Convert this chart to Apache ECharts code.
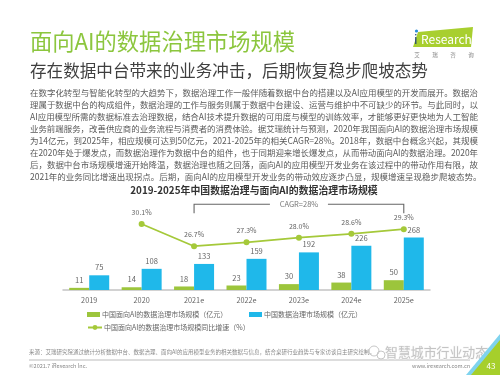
<!DOCTYPE html>
<html><head><meta charset="utf-8">
<script src="https://cdn.jsdelivr.net/npm/echarts@6/dist/echarts.min.js"></script>
<style>html,body{margin:0;padding:0;background:#fff}#c{width:500px;height:375px}</style>
</head><body><div id="c"></div>
<script>
// ---- data ----
const categories = ['2019', '2020', '2021e', '2022e', '2023e', '2024e', '2025e'];
const aiMarket = [11, 14, 18, 23, 30, 38, 50];
const dataGovMarket = [75, 108, 133, 159, 192, 226, 268];
const aiGrowth = [null, 30.1, 26.7, 27.3, 28.0, 28.6, 29.3];
const seriesNames = ['中国面向AI的数据治理市场规模（亿元）', '中国数据治理市场规模（亿元）', '中国面向AI的数据治理市场规模同比增速（%）'];
const cagrText = 'CAGR=28%';
const titleText = '面向AI的数据治理市场规模';
const subtitleText = '存在数据中台带来的业务冲击，后期恢复稳步爬坡态势';
const chartTitle = '2019-2025年中国数据治理与面向AI的数据治理市场规模';
const paragraphLines = [
  '在数字化转型与智能化转型的大趋势下，数据治理工作一般伴随着数据中台的搭建以及AI应用模型的开发而展开。数据治',
  '理属于数据中台的构成组件，数据治理的工作与服务则属于数据中台建设、运营与维护中不可缺少的环节。与此同时，以',
  'AI应用模型所需的数据标准去治理数据，结合AI技术提升数据的可用度与模型的训练效率，才能够更好更快地为人工智能',
  '业务前端服务，改善供应商的业务流程与消费者的消费体验。据艾瑞统计与预测，2020年我国面向AI的数据治理市场规模',
  '为14亿元，到2025年，相应规模可达到50亿元，2021-2025年的相关CAGR=28%。2018年，数据中台概念兴起，其规模',
  '在2020年处于爆发点，而数据治理作为数据中台的组件，也于同期迎来增长爆发点，从而带动面向AI的数据治理。2020年',
  '后，数据中台市场规模增速开始降温，数据治理也随之回落，面向AI的应用模型开发业务在该过程中的带动作用有限，故',
  '2021年的业务同比增速出现拐点。后期，面向AI的应用模型开发业务的带动效应逐步凸显，规模增速呈现稳步爬坡态势。'
];
const sourceText = '来源：艾瑞研究院通过统计分析数据中台、数据治理、面向AI的应用模型业务的相关数据与信息，结合桌研行业趋势与专家访谈自主研究绘制。';
const copyrightText = '©2021.7 iResearch Inc.';
const siteText = 'www.iresearch.com.cn';
const watermarkText = '智慧城市行业动态';
const pageNumber = '43';
const logoChars = ['艾', '瑞', '咨', '询'];

// ---- styles ----
const FONT = '"Noto Sans CJK SC", "Noto Sans", sans-serif';
const GREEN = '#9cc53c';
const BLUE = '#1fb8ea';
const LINE = '#a5c93a';

const mctx = document.createElement('canvas').getContext('2d');
function measure(t, size, weight) {
  mctx.font = (weight || 'normal') + ' ' + size + 'px ' + FONT;
  return mctx.measureText(t).width;
}
function fitSize(t, target, weight) { return +(20 * target / measure(t, 20, weight)).toFixed(2); }

const chart = echarts.init(document.getElementById('c'));

chart.setOption({
  animation: false,
  textStyle: { fontFamily: FONT },
  grid: { left: 63, right: 70, top: 198.5, bottom: 85 },
  xAxis: {
    type: 'category', data: categories,
    axisLine: { lineStyle: { color: '#c4c4c4', width: 1.5 } },
    axisTick: { show: false },
    axisLabel: { color: '#666', fontSize: 7.3, margin: 7, fontFamily: FONT }
  },
  yAxis: [
    { type: 'value', min: 0, max: 467, show: false, splitLine: { show: false } },
    { type: 'value', min: 20, max: 34, show: false, splitLine: { show: false } }
  ],
  legend: [
    { data: [seriesNames[0]], left: 87, top: 311, icon: 'rect', itemWidth: 13, itemHeight: 5, itemGap: 0, padding: 0,
      textStyle: { fontSize: 7, color: '#666', fontFamily: FONT, padding: [0, 0, 0, -3] } },
    { data: [seriesNames[1]], left: 249, top: 311, icon: 'rect', itemWidth: 13, itemHeight: 5, itemGap: 0, padding: 0,
      textStyle: { fontSize: 7, color: '#666', fontFamily: FONT, padding: [0, 0, 0, -3] } },
    { data: [seriesNames[2]], left: 87, top: 324, itemWidth: 14, itemHeight: 6, itemGap: 0, padding: 0,
      textStyle: { fontSize: 7, color: '#666', fontFamily: FONT, padding: [0, 0, 0, -3] } }
  ],
  series: [
    { name: seriesNames[0], type: 'bar', data: aiMarket, barWidth: 20, barGap: '0%',
      itemStyle: { color: GREEN },
      label: { show: true, position: 'top', distance: 4, color: '#666', fontSize: 7.6, fontFamily: FONT } },
    { name: seriesNames[1], type: 'bar', data: dataGovMarket, barWidth: 20, barGap: '0%',
      itemStyle: { color: BLUE },
      label: { show: true, position: 'top', distance: 4, color: '#666', fontSize: 7.6, fontFamily: FONT } },
    { name: seriesNames[2], type: 'line', yAxisIndex: 1, data: aiGrowth,
      symbol: 'circle', symbolSize: 6, z: 5,
      lineStyle: { color: LINE, width: 1.8 }, itemStyle: { color: LINE },
      label: { show: true, position: 'top', distance: 5, color: '#666', fontSize: 7, fontFamily: FONT,
        formatter: p => p.value == null ? '' : Number(p.value).toFixed(1) + '%' } }
  ]
});

// ---- text & decoration ----
const g = [];
function txt(t, x, y, size, color, extra) {
  const o = { type: 'text', x: x, y: y, silent: true,
    style: Object.assign({ text: t, fill: color, font: size + 'px ' + FONT, textVerticalAlign: 'middle', textAlign: 'left' }, extra || {}) };
  g.push(o); return o;
}
txt(titleText, 30, 42, fitSize(titleText, 265), '#8cc63e');
txt(subtitleText, 30, 71, fitSize(subtitleText, 398), '#3f3f3f');
const PW = 448, PSIZE = 8.5;
paragraphLines.forEach((l, i) => {
  const o = txt(l, 30, 92.7 + i * 12, PSIZE, '#5a5a5a');
  if (i < paragraphLines.length - 1) {
    o.scaleX = PW / measure(l, PSIZE);
  }
});
const ctSize = fitSize(chartTitle, 248, 'bold');
txt(chartTitle, 254, 190, ctSize, '#333', { textAlign: 'center', font: 'bold ' + ctSize + 'px ' + FONT });

// logo
g.push({ type: 'polygon', silent: true, shape: { points: [[418, 32], [473, 27], [471, 47], [413, 47]] }, style: { fill: '#a8cf2f' } });
txt('i', 414, 39, 13, '#1d3f7a');
g.push({ type: 'circle', silent: true, shape: { cx: 416.5, cy: 31, r: 1.6 }, style: { fill: '#2a8fd8' } });
txt('Research', 421, 39, 12, '#fff');
logoChars.forEach((c, i) => txt(c, 417 + i * 18, 55, 5.5, '#888', { textAlign: 'center' }));

// footer
txt(sourceText, 29, 352, 5.5, '#888');
g.push({ type: 'line', silent: true, shape: { x1: 29, y1: 360, x2: 470, y2: 360 }, style: { stroke: '#aaa', lineWidth: 0.8 } });
txt(copyrightText, 29, 366, 5.5, '#888');
txt(siteText, 412, 366, 5.5, '#888');
// watermark
g.push({ type: 'circle', silent: true, shape: { cx: 374, cy: 351, r: 5 }, style: { fill: 'none', stroke: '#c6c6c6', lineWidth: 1 } });
g.push({ type: 'circle', silent: true, shape: { cx: 381, cy: 355, r: 4 }, style: { fill: 'none', stroke: '#c6c6c6', lineWidth: 1 } });
txt(watermarkText, 385, 352, fitSize(watermarkText, 103), '#c4c4c4', { stroke: '#f4f4f4', lineWidth: 1 });
// page corner
g.push({ type: 'polygon', silent: true, shape: { points: [[500, 334], [500, 342], [474, 375], [466, 375]] }, style: { fill: '#7fd3ee' } });
g.push({ type: 'polygon', silent: true, shape: { points: [[500, 340], [500, 375], [471, 375]] }, style: { fill: '#a6cf2b' } });
txt(pageNumber, 491, 366, 8, '#fff', { textAlign: 'center' });

// CAGR bracket (anchored to category positions)
const xa = chart.convertToPixel({ xAxisIndex: 0 }, '2021e');
const xb = chart.convertToPixel({ xAxisIndex: 0 }, '2025e');
const by = 204.3, bt = 213.3, mid = (xa + xb) / 2;
const stroke = { stroke: '#666', lineWidth: 1.1 };
g.push({ type: 'polyline', silent: true, shape: { points: [[xa, bt], [xa, by], [mid - 29, by]] }, style: Object.assign({ fill: null }, stroke) });
g.push({ type: 'polyline', silent: true, shape: { points: [[mid + 29, by], [xb, by], [xb, bt]] }, style: Object.assign({ fill: null }, stroke) });
txt(cagrText, mid, by, 7.5, '#777', { textAlign: 'center' });

chart.setOption({ graphic: g });
</script></body></html>
